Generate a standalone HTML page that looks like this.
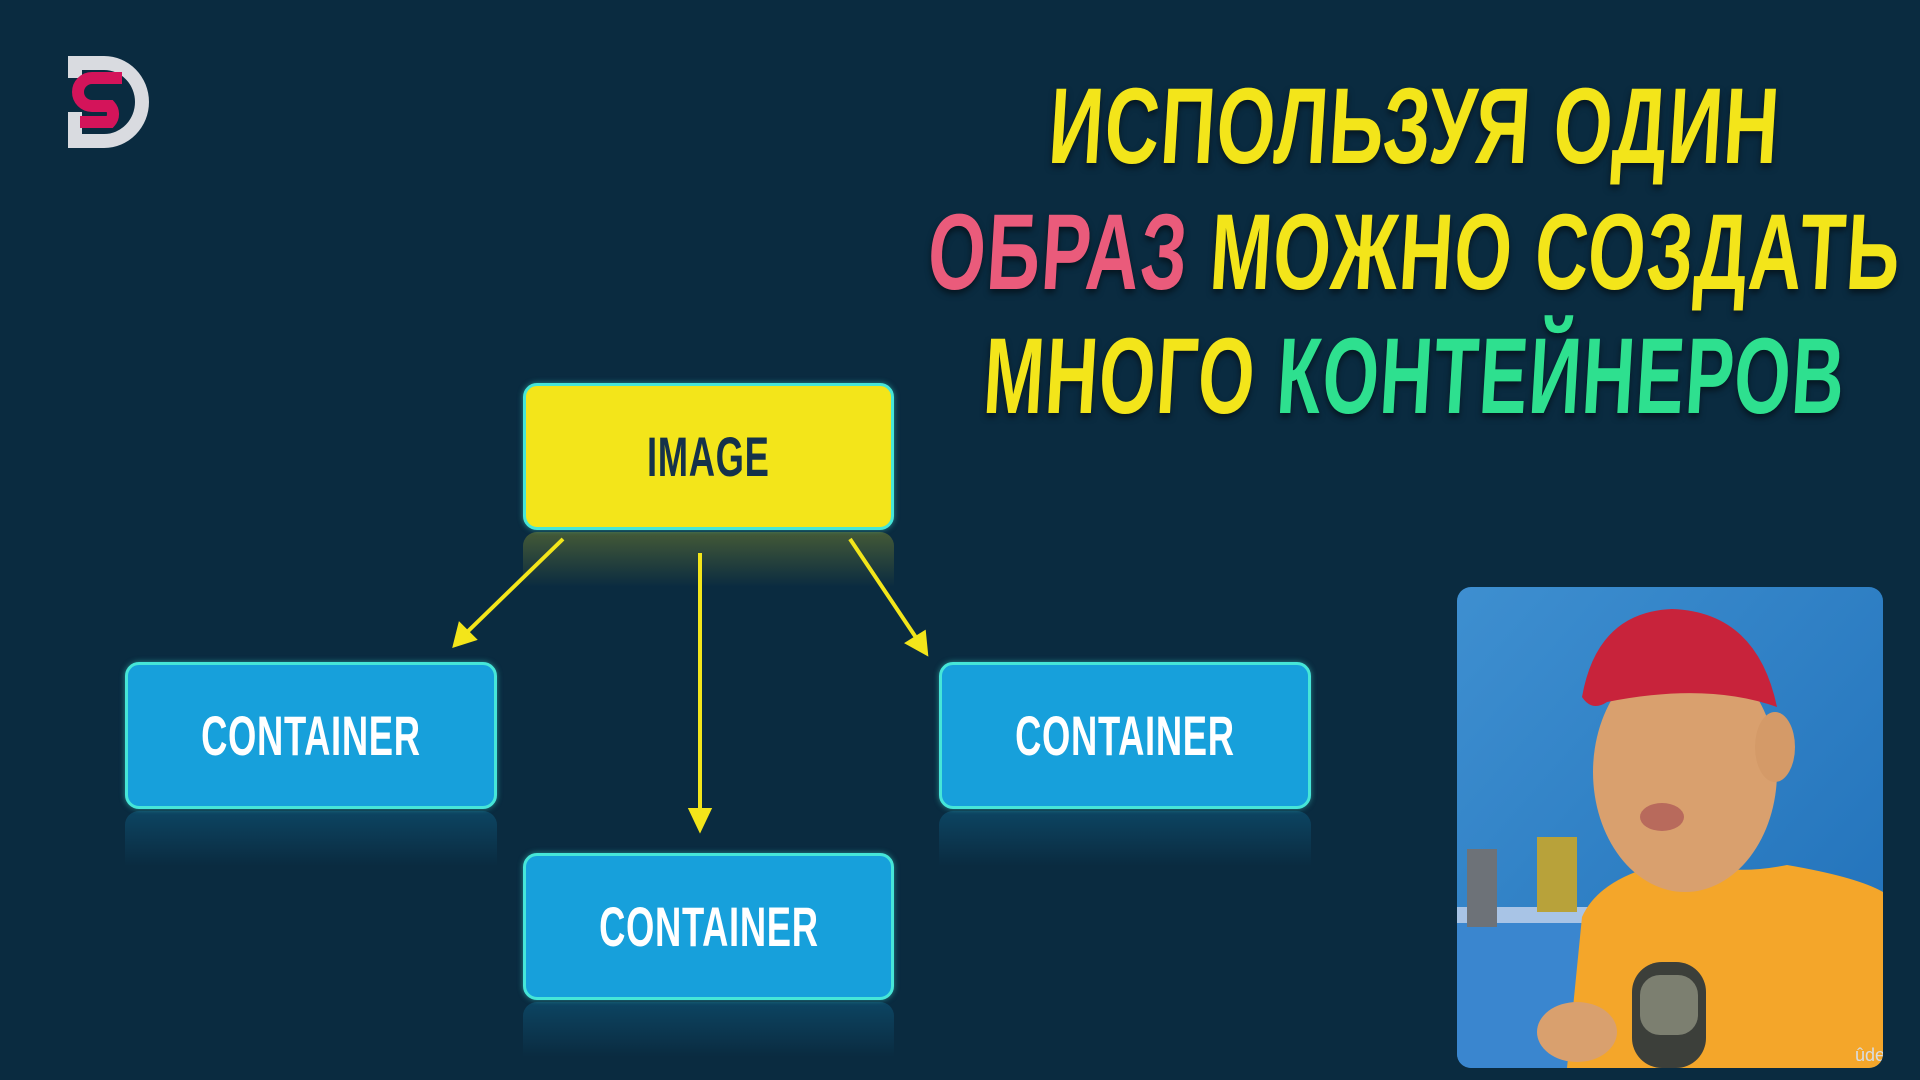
<!DOCTYPE html>
<html><head><meta charset="utf-8"><style>
html,body{margin:0;padding:0}
body{width:1920px;height:1080px;background:#0a2b40;position:relative;overflow:hidden;font-family:"Liberation Sans",sans-serif}
.t{position:absolute;left:1418px;font-weight:bold;font-size:108px;line-height:1;letter-spacing:2px;white-space:nowrap;transform:translateX(-50%) scaleX(0.69) skewX(-5deg);transform-origin:50% 0;text-shadow:0 4px 8px rgba(0,0,0,.5)}
.y{color:#f3e51a}.p{color:#ea5b7b}.g{color:#2ee08f}
.box{position:absolute;border:3px solid #46e6d8;border-radius:14px;box-sizing:border-box;display:flex;align-items:center;justify-content:center;box-shadow:0 0 6px rgba(70,230,216,.5)}
.box span{font-weight:bold;font-size:56px;transform:scaleX(0.65);display:block;letter-spacing:1px}
.c{background:#17a0db;color:#fff}
.refl{position:absolute;height:55px;border-radius:14px 14px 0 0;background:linear-gradient(rgba(23,160,219,.22),rgba(23,160,219,0))}
</style></head><body>
<svg style="position:absolute;left:0;top:0" width="1920" height="1080">
<path d="M68 56 H104 A45 46 0 0 1 104 148 H68 V134 H104 A31 32 0 0 0 104 70 H82 V56 Z" fill="#d9dbe0"/>
<rect x="68" y="56" width="14" height="22" fill="#d9dbe0"/>
<rect x="68" y="112" width="14" height="36" fill="#d9dbe0"/>
<path d="M122 78 H92 A14 14 0 0 0 92 106 H110 A12 12 0 0 1 110 122 H80" fill="none" stroke="#d4145a" stroke-width="12"/>
<g stroke="#f3e51a" stroke-width="4" fill="#f3e51a">
<line x1="563" y1="539" x2="462" y2="637"/><polygon points="455,645 460,625 474,639"/>
<line x1="700" y1="553" x2="700" y2="815"/><polygon points="700,829 691,810 709,810"/>
<line x1="850" y1="539" x2="919" y2="642"/><polygon points="926,653 908,643 924,633"/>
</g>
</svg>
<div class="t y" style="top:72px;transform:translateX(-50%) scaleX(0.7) skewX(-5deg)">ИСПОЛЬЗУЯ ОДИН</div>
<div class="t" style="top:198px;transform:translateX(-50%) scaleX(0.685) skewX(-5deg)"><span class="p">ОБРАЗ</span> <span class="y">МОЖНО СОЗДАТЬ</span></div>
<div class="t" style="top:322px;transform:translateX(-50%) scaleX(0.67) skewX(-5deg)"><span class="y">МНОГО</span> <span class="g">КОНТЕЙНЕРОВ</span></div>
<div class="refl" style="left:523px;top:532px;width:371px;background:linear-gradient(rgba(243,229,26,.25),rgba(243,229,26,0))"></div>
<div class="refl" style="left:125px;top:811px;width:372px"></div>
<div class="refl" style="left:939px;top:811px;width:372px"></div>
<div class="refl" style="left:523px;top:1002px;width:371px"></div>
<div class="box" style="left:523px;top:383px;width:371px;height:147px;background:#f3e51a;color:#15324a"><span>IMAGE</span></div>
<div class="box c" style="left:125px;top:662px;width:372px;height:147px"><span>CONTAINER</span></div>
<div class="box c" style="left:939px;top:662px;width:372px;height:147px"><span>CONTAINER</span></div>
<div class="box c" style="left:523px;top:853px;width:371px;height:147px"><span>CONTAINER</span></div>
<svg style="position:absolute;left:1457px;top:587px" width="426" height="481">
<defs><clipPath id="cl"><rect width="426" height="481" rx="14"/></clipPath>
<linearGradient id="bg" x1="0" y1="0" x2="1" y2="1"><stop offset="0" stop-color="#3e8fd0"/><stop offset="1" stop-color="#1f6fb8"/></linearGradient></defs>
<g clip-path="url(#cl)">
<rect width="426" height="481" fill="url(#bg)"/>
<rect x="0" y="330" width="140" height="151" fill="#3a86cf"/>
<rect x="0" y="320" width="150" height="16" fill="#a8c4e6"/>
<rect x="10" y="262" width="30" height="78" fill="#6d7278"/>
<rect x="80" y="250" width="40" height="75" fill="#b8a23a"/>
<path d="M110 481 L125 330 Q145 285 230 272 Q270 290 330 278 Q400 290 426 305 V481 Z" fill="#f4a62a"/>
<ellipse cx="228" cy="185" rx="92" ry="120" fill="#d9a06e"/>
<ellipse cx="318" cy="160" rx="20" ry="35" fill="#d49a68"/>
<path d="M125 110 Q140 25 215 22 Q300 25 320 120 Q250 95 150 115 Q135 125 125 110 Z" fill="#c8233b"/>
<ellipse cx="205" cy="230" rx="22" ry="14" fill="#b86a5c"/>
<rect x="175" y="375" width="74" height="106" rx="30" fill="#3c3f3a"/>
<rect x="183" y="388" width="58" height="60" rx="20" fill="#7c7f70"/>
<ellipse cx="120" cy="445" rx="40" ry="30" fill="#d9a06e"/>
<text x="398" y="474" font-size="18" fill="#d8dde3" font-family="Liberation Sans,sans-serif">ûdemy</text>
</g></svg>
</body></html>
